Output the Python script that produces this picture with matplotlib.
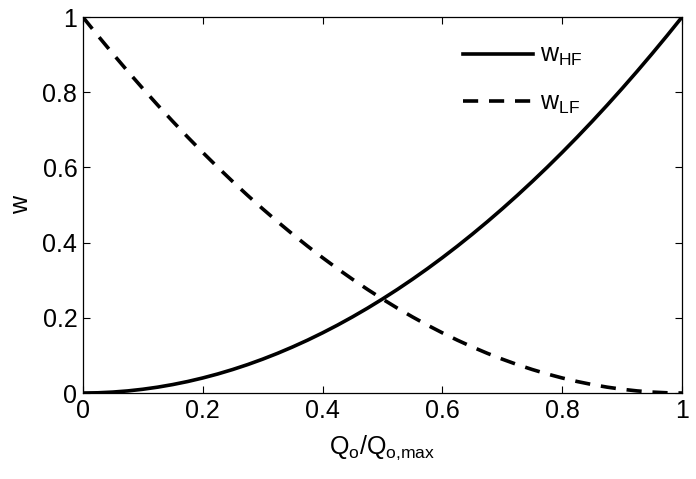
import numpy as np
import matplotlib
matplotlib.use('Agg')
import matplotlib.pyplot as plt

plt.rcParams['font.family'] = ['Liberation Sans', 'DejaVu Sans']
plt.rcParams['mathtext.fontset'] = 'custom'
plt.rcParams['mathtext.rm'] = 'Liberation Sans'
plt.rcParams['mathtext.it'] = 'Liberation Sans'

Q = [0.0, 0.025, 0.05, 0.075, 0.1, 0.125, 0.15, 0.175, 0.2, 0.225, 0.25,
     0.275, 0.3, 0.325, 0.35, 0.375, 0.4, 0.425, 0.45, 0.475, 0.5,
     0.525, 0.55, 0.575, 0.6, 0.625, 0.65, 0.675, 0.7, 0.725, 0.75,
     0.775, 0.8, 0.825, 0.85, 0.875, 0.9, 0.925, 0.95, 0.975, 1.0]
w_HF = [0.0, 0.0006, 0.0025, 0.0056, 0.01, 0.0156, 0.0225, 0.0306, 0.04, 0.0506, 0.0625,
        0.0756, 0.09, 0.1056, 0.1225, 0.1406, 0.16, 0.1806, 0.2025, 0.2256, 0.25,
        0.2756, 0.3025, 0.3306, 0.36, 0.3906, 0.4225, 0.4556, 0.49, 0.5256, 0.5625,
        0.6006, 0.64, 0.6806, 0.7225, 0.7656, 0.81, 0.8556, 0.9025, 0.9506, 1.0]
w_LF = [1.0, 0.9506, 0.9025, 0.8556, 0.81, 0.7656, 0.7225, 0.6806, 0.64, 0.6006, 0.5625,
        0.5256, 0.49, 0.4556, 0.4225, 0.3906, 0.36, 0.3306, 0.3025, 0.2756, 0.25,
        0.2256, 0.2025, 0.1806, 0.16, 0.1406, 0.1225, 0.1056, 0.09, 0.0756, 0.0625,
        0.0506, 0.04, 0.0306, 0.0225, 0.0156, 0.01, 0.0056, 0.0025, 0.0006, 0.0]
xticks = [0, 0.2, 0.4, 0.6, 0.8, 1]
xticklabels = ['0', '0.2', '0.4', '0.6', '0.8', '1']
yticks = [0, 0.2, 0.4, 0.6, 0.8, 1]
yticklabels = ['0', '0.2', '0.4', '0.6', '0.8', '1']

fig = plt.figure(figsize=(6.96, 4.79), dpi=100)
ax = fig.add_axes([0.119, 0.1795, 0.861, 0.785])

ax.plot(Q, w_HF, 'k-', lw=2.6, label=r'w$_{\mathrm{HF}}$')
l2, = ax.plot(Q, w_LF, 'k--', lw=2.6, label=r'w$_{\mathrm{LF}}$')
l2.set_dashes((4.2, 3.0))

ax.set_xlim(0, 1)
ax.set_ylim(0, 1)
ax.set_xticks(xticks)
ax.set_xticklabels(xticklabels)
ax.set_yticks(yticks)
ax.set_yticklabels(yticklabels)
ax.tick_params(direction='in', top=True, right=True, labelsize=18, length=5, width=0.8, pad=4)
for s in ax.spines.values():
    s.set_linewidth(0.9)

ax.set_xlabel(r'Q$_{\mathrm{o}}$/Q$_{\mathrm{o{,}max}}$', fontsize=18, labelpad=8)
ax.set_ylabel('w', fontsize=18, labelpad=7)

leg = ax.legend(loc='upper right', frameon=False, fontsize=18, handlelength=2.8,
                labelspacing=0.9, bbox_to_anchor=(0.872, 0.99), handletextpad=0.3)
leg.get_lines()[1].set_dashes((4.2, 3.0))

fig.savefig('out.png', dpi=100)
